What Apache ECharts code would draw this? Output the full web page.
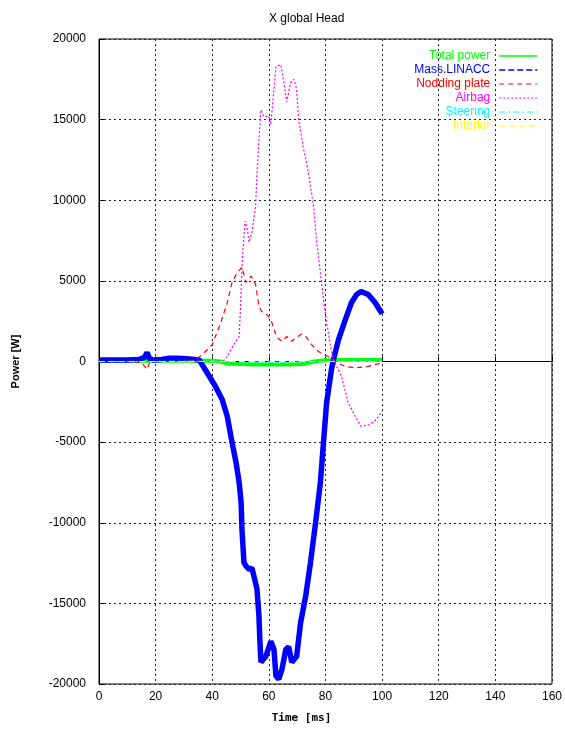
<!DOCTYPE html>
<html><head><meta charset="utf-8">
<script src="https://cdn.jsdelivr.net/npm/echarts@6/dist/echarts.min.js"></script>
<style>html,body{margin:0;padding:0;background:#fff}#c{width:565px;height:729px}</style>
</head><body><div id="c"></div>
<script>
const titleText = 'X global Head';
const xName = 'Time [ms]';
const yName = 'Power [W]';
const xTicks = [0, 20, 40, 60, 80, 100, 120, 140, 160];
const yTicks = [-20000, -15000, -10000, -5000, 0, 5000, 10000, 15000, 20000];
const seriesNames = ['Total power', 'Mass.LINACC', 'Nodding plate', 'Airbag', 'Steering', 'Interior'];

const totalPower = [[0,50],[10,50],[20,50],[30,60],[40,40],[43,0],[45,-120],[50,-150],[55,-180],[60,-180],[65,-180],[70,-170],[73,-120],[76,0],[80,80],[85,100],[90,100],[95,100],[100,100]];
const massLinacc = [[0,100],[5,100],[10,100],[14,120],[16,250],[17,550],[17.8,200],[19,100],[22,120],[25,200],[28,200],[31.9,150],[35.4,100],[38.9,-900],[41,-1500],[43.5,-2360],[45.3,-3400],[46.6,-4650],[48.4,-6260],[49.5,-7500],[50.2,-8750],[50.5,-10400],[51.2,-12470],[52,-12700],[53,-12900],[54,-12800],[54.7,-13300],[55.8,-14100],[56.5,-15800],[56.8,-17200],[57.2,-18650],[58.9,-18300],[60.7,-17350],[61.8,-17850],[62.5,-19500],[63.5,-19700],[64.6,-19100],[66,-17850],[67,-17700],[68.1,-18650],[69.8,-18300],[71.2,-16200],[73,-14550],[74.7,-12470],[76.5,-10000],[78.2,-7500],[79.3,-5000],[80.4,-2550],[82.1,-500],[82.8,100],[84.6,1360],[87,2600],[89.2,3660],[91,4150],[92.6,4340],[95.1,4150],[97.5,3660],[99.7,3040],[100,2950]];
const noddingPlate = [[0,0],[10,0],[15,-50],[17,-500],[18,0],[25,0],[30,0],[34,100],[36.5,430],[40,1050],[43,2400],[45.3,3650],[47,4900],[48.8,5500],[50.5,5850],[51.9,4900],[53.7,5300],[55.3,4800],[56.5,3400],[57.5,3100],[59.3,2900],[60.7,2600],[61.8,2000],[62.8,1500],[64.6,1250],[66.3,1550],[68.1,1250],[69.8,1500],[71.6,1700],[73.3,1500],[75.1,1050],[77.5,620],[79.3,430],[81.8,250],[83.9,-60],[87,-300],[90.5,-400],[95,-300],[99.7,-100]];
const airbag = [[0,0],[10,0],[20,0],[30,0],[40,0],[44,50],[45.3,300],[46.6,750],[48.3,1250],[49.5,1550],[50,3400],[50.6,6300],[51.6,8700],[52.4,8200],[53,7400],[54,8000],[55.3,9600],[55.8,11700],[56.5,13750],[57.2,15600],[58.2,15200],[60,15200],[60.7,14700],[61.8,16900],[62.5,18300],[64.2,18400],[65.3,17300],[66.3,16100],[67.7,17300],[68.8,17500],[69.8,16900],[70.5,15000],[72.3,13150],[74,11700],[75.8,9600],[76.8,7560],[78.2,5500],[79.3,3850],[80.4,2400],[81.8,930],[82.8,100],[85.6,-900],[88,-2550],[90.5,-3400],[92.6,-4030],[95.8,-3900],[97.9,-3600],[99.7,-3160],[100,-3050]];
const steering = [[0,0],[20,0],[40,20],[50,-30],[60,-40],[70,-30],[80,0],[90,20],[100,20]];
const interior = [[0,0],[20,0],[40,0],[50,0],[60,0],[70,0],[80,0],[90,0],[100,0]];

const colors = ['#00ff00', '#0000ff', '#ff0000', '#ff00ff', '#00ffff', '#ffff00'];
const datasets = [totalPower, massLinacc, noddingPlate, airbag, steering, interior];
const lineTypes = ['solid', 'solid', [5,4], [2,2], [6,3,2,3], [6,4]];
const legendTypes = ['solid', [6,3], [5,4], [2,2], [6,3,2,3], [6,4]];
const widths = [4, 5.5, 1.2, 1.2, 1.2, 1.2];

const chart = echarts.init(document.getElementById('c'), null, {renderer: 'canvas'});
const gridStyle = {show: true, lineStyle: {color: '#222', type: [2, 3], width: 1}};
chart.setOption({
  animation: false,
  backgroundColor: '#fff',
  title: {text: titleText, left: 264, top: 8, textStyle: {fontFamily: 'Liberation Sans', fontSize: 12, fontWeight: 'normal', color: '#000'}},
  grid: {left: 99, right: 10, top: 39, bottom: 45, show: true, borderColor: '#000', borderWidth: 1, containLabel: false},
  legend: {
    orient: 'vertical', right: 22, top: 45, align: 'right', itemGap: 2, itemWidth: 38, itemHeight: 12,
    textStyle: {fontFamily: 'Liberation Sans', fontSize: 12, padding: [0, 4, 0, 0]},
    itemStyle: {opacity: 0},
    data: seriesNames.map((n, i) => ({name: n, textStyle: {color: colors[i]},
      lineStyle: {color: colors[i], width: i < 2 ? 1.5 : 1.2, type: legendTypes[i]}}))
  },
  xAxis: {
    type: 'value', min: 0, max: 160, interval: 20,
    name: xName, nameLocation: 'middle', nameGap: 29,
    nameTextStyle: {fontFamily: 'DejaVu Sans Mono', fontSize: 11, fontWeight: 'bold', color: '#000', padding: [0, 48, 0, 0]},
    axisLine: {show: true, lineStyle: {color: '#000'}},
    axisTick: {show: true, inside: true, length: 5, lineStyle: {color: '#000'}},
    axisLabel: {color: '#000', fontFamily: 'Liberation Sans', fontSize: 12, margin: 7,
      formatter: v => xTicks.includes(v) ? String(v) : ''},
    splitLine: gridStyle
  },
  yAxis: {
    type: 'value', min: -20000, max: 20000, interval: 5000,
    name: yName, nameLocation: 'middle', nameGap: 78, nameRotate: 90,
    nameTextStyle: {fontFamily: 'Liberation Sans', fontSize: 11, fontWeight: 'bold', color: '#000'},
    axisLine: {show: true, lineStyle: {color: '#000'}},
    axisTick: {show: true, inside: true, length: 5, lineStyle: {color: '#000'}},
    axisLabel: {color: '#000', fontFamily: 'Liberation Sans', fontSize: 12, margin: 13,
      formatter: v => yTicks.includes(v) ? String(v) : ''},
    splitLine: gridStyle
  },
  series: seriesNames.map((n, i) => ({
    name: n, type: 'line', data: datasets[i],
    showSymbol: false, symbol: 'none',
    itemStyle: {color: colors[i]},
    lineStyle: {color: colors[i], width: widths[i], type: lineTypes[i]},
    smooth: false
  }))
});
</script></body></html>
